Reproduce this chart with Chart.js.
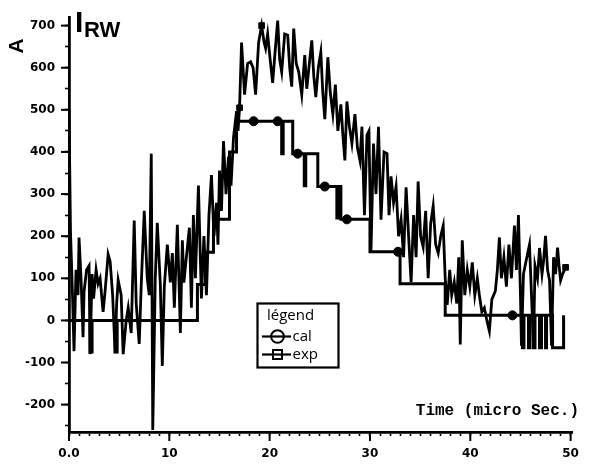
<!DOCTYPE html>
<html><head><meta charset="utf-8">
<script src="https://cdn.jsdelivr.net/npm/chart.js@4.4.1/dist/chart.umd.min.js"></script>
<style>html,body{margin:0;padding:0;background:#fff;}</style>
</head><body>
<canvas id="c" width="590" height="465"></canvas>
<script>
const seriesNames = ['cal', 'exp'];
const xTickLabels = ['0.0', '10', '20', '30', '40', '50'];
const yTickLabels = ['-200', '-100', '0', '100', '200', '300', '400', '500', '600', '700'];

const expTime = [0, 0.15, 0.35, 0.5, 0.7, 0.9, 1.0, 1.2, 1.4, 1.5,
  1.75, 2.0, 2.1, 2.3, 2.45, 2.7, 2.9, 3.1, 3.4, 3.6,
  3.9, 4.1, 4.35, 4.6, 4.75, 4.9, 5.2, 5.4, 5.7, 5.9,
  6.2, 6.5, 6.7, 7.0, 7.2, 7.5, 7.8, 8.0, 8.2, 8.35,
  8.6, 8.8, 9.1, 9.3, 9.5, 9.8, 10.1, 10.3, 10.5, 10.8,
  11.0, 11.1, 11.3, 11.45, 11.7, 12.0, 12.2, 12.4, 12.6, 12.9,
  13.2, 13.45, 13.7, 13.95, 14.2, 14.45, 14.7, 14.85, 15.0, 15.2,
  15.4, 15.65, 15.9, 16.15, 16.4, 16.7, 16.85, 17.0, 17.2, 17.5,
  17.8, 18.1, 18.35, 18.6, 18.9, 19.2, 19.45, 19.6, 19.8, 20.05,
  20.3, 20.55, 20.8, 21.0, 21.2, 21.5, 21.8, 22.0, 22.2, 22.4,
  22.65, 22.9, 23.2, 23.5, 23.7, 24.0, 24.2, 24.4, 24.6, 24.85,
  25.1, 25.3, 25.5, 25.8, 26.05, 26.3, 26.55, 26.8, 27.1, 27.3,
  27.5, 27.7, 27.95, 28.2, 28.5, 28.75, 29.0, 29.2, 29.45, 29.7,
  29.9, 30.1, 30.35, 30.6, 30.85, 31.1, 31.4, 31.7, 31.9, 32.1,
  32.35, 32.6, 32.85, 33.1, 33.35, 33.6, 33.85, 34.1, 34.35, 34.6,
  34.8, 35.05, 35.3, 35.55, 35.8, 36.05, 36.3, 36.55, 36.8, 37.05,
  37.3, 37.5, 37.7, 37.95, 38.15, 38.4, 38.65, 38.85, 39.0, 39.2,
  39.45, 39.7, 39.95, 40.2, 40.45, 40.7, 40.9, 41.15, 41.4, 41.65,
  41.9, 42.15, 42.5, 42.7, 42.9, 43.1, 43.35, 43.6, 43.85, 44.1,
  44.4, 44.6, 44.8, 45.0, 45.1, 45.3, 45.55, 45.9, 46.1, 46.3,
  46.45, 46.7, 46.9, 47.15, 47.3, 47.5, 47.7, 47.9, 48.1, 48.3,
  48.5, 48.7, 48.85, 49.0, 49.2, 49.5];
const expCurrent = [500, 210, 60, -73, 120, 60, 197, 100, -40, 68,
  120, 130, -80, 110, 52, 120, 87, 100, 20, 70,
  157, 140, 60, -78, 40, 96, 60, -80, 0, 30,
  -30, 237, 40, -56, 84, 260, 100, 60, 396, -260,
  100, 232, 87, -108, 80, 180, 90, 160, 30, 227,
  60, -30, 190, 90, 150, 220, 30, 250, 100, 320,
  52, 200, 60, 250, 345, 200, 279, 180, 356, 260,
  426, 300, 389, 320, 435, 497, 450, 505, 660, 536,
  610, 614, 600, 536, 660, 700, 660, 646, 680, 620,
  564, 640, 712, 620, 590, 680, 677, 600, 555, 693,
  610, 590, 536, 630, 550, 620, 665, 580, 530, 600,
  637, 540, 478, 625, 540, 490, 560, 450, 513, 440,
  380, 520, 460, 420, 490, 410, 380, 460, 250, 440,
  450, 162, 420, 300, 460, 239, 400, 396, 250, 342,
  280, 318, 200, 240, 150, 316, 200, 91, 250, 150,
  330, 200, 175, 260, 100, 230, 272, 180, 160, 200,
  225, 100, 37, 120, 60, 91, 40, 150, -57, 190,
  60, 120, 80, 138, 60, 100, 61, 20, 30, 0,
  -25, 50, 70, 120, 197, 100, 150, 80, 180, 100,
  225, 120, 250, 60, -60, 110, 140, 180, 60, -62,
  130, 100, 172, 110, 140, 201, 120, 95, -60, 150,
  110, 173, 130, 95, 110, 126];
const expMarkerTimes = [17.0, 19.2, 49.5];

const calTime = [0, 2.1, 2.3, 4.6, 4.8, 12.8, 13.6, 14.4, 16.0, 16.7,
  18.4, 20.8, 21.2, 21.35, 22.3, 22.8, 23.45, 23.6, 24.8, 25.5,
  26.7, 26.85, 27.1, 27.7, 30.0, 32.8, 33.0, 37.5, 44.2, 45.2,
  45.35, 45.8, 45.95, 46.3, 46.45, 46.9, 47.1, 47.5, 47.6, 48.2, 49.3];
const calCurrent = [0, -75, 0, -75, 0, 85, 162, 240, 400, 473,
  473, 473, 396, 473, 396, 396, 320, 396, 318, 318,
  243, 318, 240, 240, 163, 163, 87, 12, 12, -65,
  12, -65, 12, -65, 12, -65, 12, -65, 12, -65, 12];

const LEG_LEFT = 267, LEG_TOP = 308;

const decor = {
  id: 'decor',
  beforeDraw(chart) {
    const ctx = chart.ctx;
    ctx.save(); ctx.fillStyle = '#fff'; ctx.fillRect(0, 0, chart.width, chart.height); ctx.restore();
    const lg = chart.legend;
    if (lg) {
      const w = lg.width, h = lg.height;
      lg.left = LEG_LEFT; lg.top = LEG_TOP; lg.right = LEG_LEFT + w; lg.bottom = LEG_TOP + h;
    }
  },
  afterDraw(chart) {
    const ctx = chart.ctx, xs = chart.scales.x, ys = chart.scales.y, ca = chart.chartArea;
    ctx.save();
    ctx.strokeStyle = '#000'; ctx.lineWidth = 2;
    for (let v = -200; v <= 700; v += 100) {
      const py = ys.getPixelForValue(v);
      ctx.beginPath(); ctx.moveTo(ca.left - 8, py); ctx.lineTo(ca.left, py); ctx.stroke();
    }
    for (let v = 0; v <= 50; v += 10) {
      const px = xs.getPixelForValue(v);
      ctx.beginPath(); ctx.moveTo(px, ca.bottom); ctx.lineTo(px, ca.bottom + 9); ctx.stroke();
    }
    ctx.lineWidth = 2.2;
    ctx.strokeRect(257.5, 303.5, 81, 64);
    ctx.lineWidth = 2.2;
    for (let i = 0; i < 2; i++) {
      const cy = LEG_TOP + 18 + 3 + 7.5 + i * 18;
      ctx.beginPath(); ctx.moveTo(262, cy); ctx.lineTo(291, cy); ctx.stroke();
    }
    ctx.fillStyle = '#000';
    ctx.textAlign = 'left'; ctx.textBaseline = 'alphabetic';
    ctx.font = 'bold 30px "Liberation Sans"';
    ctx.fillText('I', 75, 32);
    ctx.font = 'bold 22px "Liberation Sans"';
    ctx.fillText('RW', 84, 37);
    ctx.font = 'bold 16px "Liberation Mono"';
    ctx.textAlign = 'right'; ctx.textBaseline = 'middle';
    ctx.fillText('Time (micro Sec.)', 579, 411);
    ctx.translate(17, 46); ctx.rotate(-Math.PI / 2);
    ctx.font = 'bold 21px "Liberation Sans"';
    ctx.textAlign = 'center'; ctx.textBaseline = 'middle';
    ctx.fillText('A', 0, 0);
    ctx.restore();
  }
};

const tickFont = { family: 'DejaVu Sans', weight: 'bold', size: 12 };

new Chart(document.getElementById('c'), {
  type: 'line',
  data: {
    datasets: [
      {
        label: seriesNames[0],
        data: calTime.map((t, i) => ({ x: t, y: calCurrent[i] })),
        stepped: 'before',
        borderColor: '#000', backgroundColor: '#000', borderWidth: 3,
        pointStyle: 'circle',
        pointRadius: c => (c.dataIndex > 0 && calCurrent[c.dataIndex] === calCurrent[c.dataIndex - 1]) ? 4.5 : 0,
        pointBackgroundColor: '#000', pointBorderColor: '#000', pointBorderWidth: 1,
        fill: false
      },
      {
        label: seriesNames[1],
        data: expTime.map((t, i) => ({ x: t, y: expCurrent[i] })),
        borderColor: '#000', backgroundColor: '#000', borderWidth: 2.8,
        pointStyle: 'rect',
        pointRadius: c => expMarkerTimes.includes(expTime[c.dataIndex]) ? 4 : 0,
        pointBackgroundColor: '#000', pointBorderColor: '#000', pointBorderWidth: 1,
        tension: 0, fill: false
      }
    ]
  },
  options: {
    responsive: false,
    animation: false,
    events: [],
    layout: { padding: { top: 12, right: 8, left: 0, bottom: 0 } },
    plugins: {
      tooltip: { enabled: false },
      title: { display: false },
      legend: {
        display: true,
        position: 'chartArea',
        align: 'start',
        title: { display: true, text: 'légend', position: 'start', color: '#000', padding: 0,
                 font: { family: 'Open Sans', size: 15 } },
        labels: {
          usePointStyle: true, boxWidth: 15, boxHeight: 9, padding: 3, color: '#000',
          font: { family: 'Open Sans', size: 15 },
          generateLabels(chart) {
            const items = Chart.defaults.plugins.legend.labels.generateLabels(chart);
            items.forEach(it => { it.fillStyle = '#fff'; it.strokeStyle = '#000'; it.lineWidth = 2; });
            return items;
          }
        }
      }
    },
    scales: {
      x: {
        type: 'linear', min: 0, max: 50.2,
        afterFit(s) { s.height = 33; },
        border: { display: true, color: '#000', width: 2.8 },
        grid: { drawOnChartArea: false, drawTicks: true, tickLength: 4, tickColor: '#000', tickWidth: 1.6 },
        ticks: {
          stepSize: 1, autoSkip: false, includeBounds: false, maxRotation: 0, padding: 11,
          color: '#000', font: tickFont,
          callback: v => (Math.abs(v % 10) < 1e-9) ? xTickLabels[Math.round(v / 10)] : ''
        }
      },
      y: {
        type: 'linear', min: -265, max: 720,
        afterFit(s) { s.width = 69; },
        border: { display: true, color: '#000', width: 2.8 },
        grid: { drawOnChartArea: false, drawTicks: true, tickLength: 4, tickColor: '#000', tickWidth: 1.6 },
        ticks: {
          stepSize: 50, autoSkip: false, includeBounds: false, padding: 10,
          color: '#000', font: tickFont,
          callback: v => (Math.abs(v % 100) < 1e-9) ? yTickLabels[Math.round((v + 200) / 100)] : ''
        }
      }
    }
  },
  plugins: [decor]
});
</script>
</body></html>
